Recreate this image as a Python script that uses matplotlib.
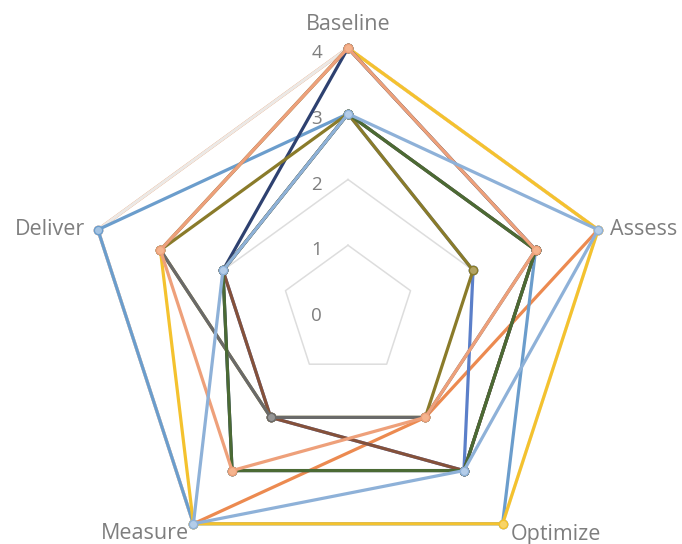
import numpy as np
import matplotlib
matplotlib.use("Agg")
import matplotlib.pyplot as plt

# Radar chart: five practice areas scored 0-4 for twelve teams
categories = ["Baseline", "Assess", "Optimize", "Measure", "Deliver"]
scale_ticks = [0, 1, 2, 3, 4]

team_a = [4, 4, 2, 4, 4]
team_b = [4, 4, 4, 4, 4]
team_c = [3, 2, 3, 2, 2]
team_d = [3, 3, 4, 4, 4]
team_e = [4, 4, 4, 4, 3]
team_f = [4, 3, 3, 3, 2]
team_g = [3, 3, 3, 2, 2]
team_h = [3, 2, 2, 2, 3]
team_i = [4, 3, 2, 2, 3]
team_j = [3, 3, 3, 3, 2]
team_k = [4, 3, 2, 3, 3]
team_l = [3, 4, 3, 4, 2]

series = [team_a, team_b, team_c, team_d, team_e, team_f,
          team_g, team_h, team_i, team_j, team_k, team_l]
line_colors = ["#EC8A50", "#ECE9E6", "#5B7FC9", "#6B9DCC", "#F4C22E", "#2E4170",
               "#85513A", "#8A7B2A", "#6A6A6A", "#4B6A34", "#EEA07A", "#8EB1D8"]
face_colors = ["#F3AF84", "#F2F0EE", "#8DA6DA", "#A3C3E3", "#F8D467", "#6F7EA3",
               "#A9826F", "#B3A464", "#969696", "#7F9A6D", "#F5B48E", "#B4CDE9"]

n = len(categories)
angles = np.arange(n) * 2 * np.pi / n   # clockwise from the top


def to_xy(values):
    r = np.asarray(values, dtype=float)
    return r * np.sin(angles), r * np.cos(angles)


W, H = 682, 544
fig = plt.figure(figsize=(W / 100, H / 100), dpi=100)
ax = fig.add_axes([0, 0, 1, 1])
px = 263 / 4.0          # pixels per scale unit
cx, cy = 348, 311       # chart centre in pixels from top-left
ax.set_xlim(-cx / px, (W - cx) / px)
ax.set_ylim(-(H - cy) / px, cy / px)
ax.set_aspect("equal")
ax.axis("off")

# pentagon gridlines
for t in scale_ticks[1:]:
    gx, gy = to_xy([t] * n)
    ax.plot(np.append(gx, gx[0]), np.append(gy, gy[0]),
            color="#DDDDDD", lw=1.1, zorder=1)

# scale labels, placed just left of the vertical axis
for t in scale_ticks:
    ax.text(-26 / px, t - 5 / px, str(t), ha="right", va="center",
            fontsize=13.5, color="#7E7E7E", family="Open Sans", zorder=2)

# data series
for k, (vals, lc, fc) in enumerate(zip(series, line_colors, face_colors)):
    x, y = to_xy(vals)
    ax.plot(np.append(x, x[0]), np.append(y, y[0]), color=lc, lw=2.3,
            solid_joinstyle="miter", zorder=3 + k)
    ax.plot(x, y, "o", ms=6, mfc=fc, mec=lc, mew=1.0, zorder=3 + k)

# category labels around the outer ring
vx, vy = to_xy([scale_ticks[-1]] * n)
label_offsets = [(0, 24, "center"), (12, 0, "left"), (8, -11, "left"),
                 (-4, -10, "right"), (-13, 0, "right")]
for name, x0, y0, (dx, dy, ha) in zip(categories, vx, vy, label_offsets):
    ax.text(x0 + dx / px, y0 + dy / px, name, ha=ha, va="center",
            fontsize=15.5, color="#7E7E7E", family="Open Sans", zorder=20)

fig.savefig("out.png", dpi=100, facecolor="white")
